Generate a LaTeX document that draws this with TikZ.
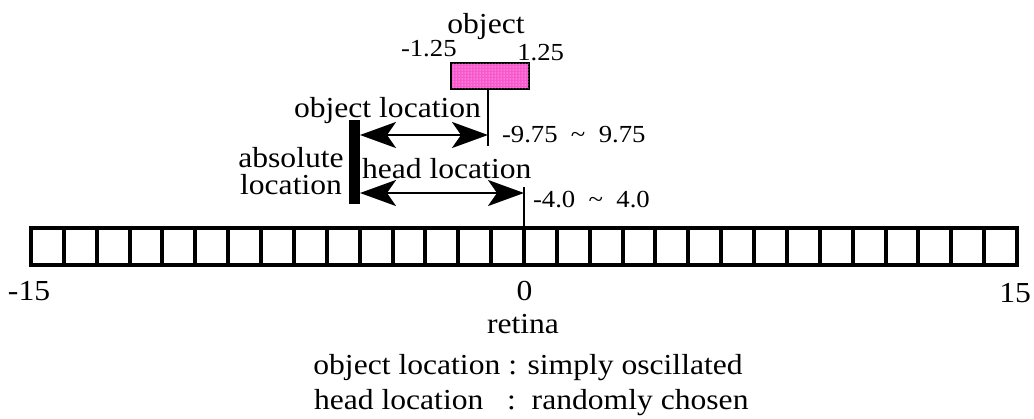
\documentclass[tikz,border=0pt]{standalone}
\usepackage{fontspec}
\setmainfont{Liberation Serif}
\usepackage{graphicx}
\usetikzlibrary{arrows.meta,patterns,calc}
\definecolor{objpink}{RGB}{248,90,205}
\newcommand\stretchtxt[1]{\scalebox{1.09}[1]{#1}}
\newcommand\bigfont{\fontsize{29}{29}\selectfont}
\newcommand\smallfont{\fontsize{24.5}{24.5}\selectfont}

\begin{document}
\begin{tikzpicture}[x=1pt,y=-1pt,
  lbl/.style={inner sep=0pt, outer sep=0pt, font=\bigfont},
  rng/.style={inner sep=0pt, outer sep=0pt, font=\smallfont},
  span/.style={line width=2.5pt,
    {Stealth[length=36pt,width=26pt,inset=9pt]}-{Stealth[length=36pt,width=26pt,inset=9pt]}},
  marker/.style={line width=2pt},
  cellwall/.style={line width=4pt}]
\useasboundingbox (0,0) rectangle (1034,418);

% the object: pink stippled box
\node[draw, line width=2pt, fill=objpink,
      postaction={pattern=dots, pattern color=white},
      minimum width=78, minimum height=26, inner sep=0pt, outer sep=0pt]
      (objbox) at (490,76) {};
\coordinate (objtip) at (488,146);
\draw[marker] (objtip |- objbox.south) -- (objtip);

% absolute location bar
\node[fill=black, minimum width=11, minimum height=84, inner sep=0pt, outer sep=0pt]
      (bar) at (354.5,162) {};

% retina: 30 cells
\node[draw, line width=4pt, minimum width=986, minimum height=37,
      inner sep=0pt, outer sep=0pt] (retina) at (524,246.5) {};
\foreach \i in {1,...,29}
  \draw[cellwall] ($(retina.north west)!\i/30!(retina.north east)$)
               -- ($(retina.south west)!\i/30!(retina.south east)$);

% head position marker
\coordinate (headtop) at (524,187);
\draw[marker] (headtop) -- (headtop |- retina.north);

% location spans
\coordinate (objrow) at (0,135);
\coordinate (headrow) at (0,193);
\draw[span] (bar.east |- objrow) -- (objtip |- objrow);
\draw[span] (bar.east |- headrow) -- (headtop |- headrow);

% labels
\node[lbl, anchor=base] (objlbl) at (486,33) {\stretchtxt{object}};
\node[rng, anchor=base west] (lowlbl) at (401,56) {\stretchtxt{-1.25}};
\node[rng, anchor=base east] (highlbl) at (564,60) {\stretchtxt{1.25}};
\node[lbl, anchor=base west] (objloclbl) at (294,117) {\stretchtxt{object location}};
\node[rng, anchor=base west] (objrng) at (502,142) {\stretchtxt{-9.75\ \ \textasciitilde\ \ 9.75}};
\node[lbl, anchor=base] (abs1) at (291,167) {\stretchtxt{absolute}};
\node[lbl, anchor=base] (abs2) at (291,194) {\stretchtxt{location}};
\node[lbl, anchor=base west] (headloclbl) at (362,178) {\stretchtxt{head location}};
\node[rng, anchor=base west] (headrng) at (533,207) {\stretchtxt{-4.0\ \ \textasciitilde\ \ 4.0}};
\node[lbl, anchor=base west] (minlbl) at (8,300) {\stretchtxt{-15}};
\node[lbl, anchor=base] (zerolbl) at (524.5,300) {\stretchtxt{0}};
\node[lbl, anchor=base east] (maxlbl) at (1031,302) {\stretchtxt{15}};
\node[lbl, anchor=base] (retinalbl) at (523,333) {\stretchtxt{retina}};
\node[lbl, anchor=base] (note1) at (528,374) {\stretchtxt{object location : simply oscillated}};
\node[lbl, anchor=base west] (note2) at (314,409) {\stretchtxt{head location\ \ \ :\ \ randomly chosen}};
\end{tikzpicture}
\end{document}
